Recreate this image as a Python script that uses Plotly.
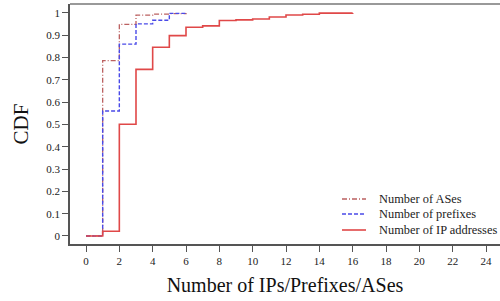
import plotly.graph_objects as go

# Data
as_x = [0, 1, 2, 3, 4, 5, 6]
as_y = [0.0, 0.786, 0.949, 0.990, 0.995, 0.997, 1.0]

pfx_x = [0, 1, 2, 3, 4, 5, 6]
pfx_y = [0.0, 0.560, 0.860, 0.951, 0.967, 0.998, 1.0]

ip_x = list(range(0, 17))
ip_y = [0.0, 0.021, 0.501, 0.747, 0.846, 0.898, 0.936, 0.942, 0.966,
        0.969, 0.973, 0.982, 0.991, 0.994, 0.999, 0.999, 1.0]

series_names = ["Number of ASes", "Number of prefixes", "Number of IP addresses"]

x_ticks = list(range(0, 25, 2))
y_ticks = [0, 0.1, 0.2, 0.3, 0.4, 0.5, 0.6, 0.7, 0.8, 0.9, 1]
y_tick_text = ["0", "0.1", "0.2", "0.3", "0.4", "0.5", "0.6", "0.7", "0.8", "0.9", "1"]

SERIF = "Liberation Serif, Times New Roman, serif"

styles = [
    dict(color="#bb6060", width=1.3, dash="5px,2px,1px,2px"),
    dict(color="#4a4ae8", width=1.4, dash="4px,2px"),
    dict(color="#e04848", width=1.6),
]

fig = go.Figure()
for xs, ys, name, st in zip([as_x, pfx_x, ip_x], [as_y, pfx_y, ip_y], series_names, styles):
    fig.add_trace(go.Scatter(x=xs, y=ys, mode="lines", line_shape="hv",
                             name=name, line=st, showlegend=False))

axis_common = dict(showline=True, linecolor="#555555", linewidth=1.5,
                   ticks="outside", ticklen=6, tickcolor="#555555", tickwidth=1,
                   showgrid=False, zeroline=False, automargin=False,
                   tickfont=dict(family=SERIF, size=11, color="#222222"))

fig.update_layout(
    width=500, height=301,
    margin=dict(l=70, r=0, t=4, b=57),
    paper_bgcolor="white", plot_bgcolor="white",
    xaxis=dict(range=[-0.96, 24.84], tickvals=x_ticks,
               title=dict(text="Number of IPs/Prefixes/ASes",
                          font=dict(family=SERIF, size=20, color="#111111"),
                          standoff=12),
               **axis_common),
    yaxis=dict(range=[-0.036, 1.040], tickvals=y_ticks, ticktext=y_tick_text,
               title=dict(text="CDF",
                          font=dict(family=SERIF, size=21, color="#111111"),
                          standoff=12),
               **axis_common),
    showlegend=False,
)

fig.add_shape(type="line", xref="paper", yref="paper", x0=0, x1=1, y0=1, y1=1,
              line=dict(color="#777777", width=1.5))

# Manual legend (pixel layout converted to paper coords)
PL, PW, PB, PH = 70.0, 430.0, 244.0, 240.0
row_py = [199, 214, 230]
for name, st, py in zip(series_names, styles, row_py):
    yp = (PB - py) / PH
    fig.add_shape(type="line", xref="paper", yref="paper",
                  x0=(342 - PL) / PW, x1=(366 - PL) / PW, y0=yp, y1=yp,
                  line=st)
    fig.add_annotation(xref="paper", yref="paper", x=(377 - PL) / PW, y=yp,
                       text=name, showarrow=False, xanchor="left", yanchor="middle",
                       font=dict(family=SERIF, size=12.4, color="#222222"))

fig.write_html("out.html",
               config={"displayModeBar": False},
               post_script="document.body.style.margin='0';document.body.style.overflow='hidden';")
